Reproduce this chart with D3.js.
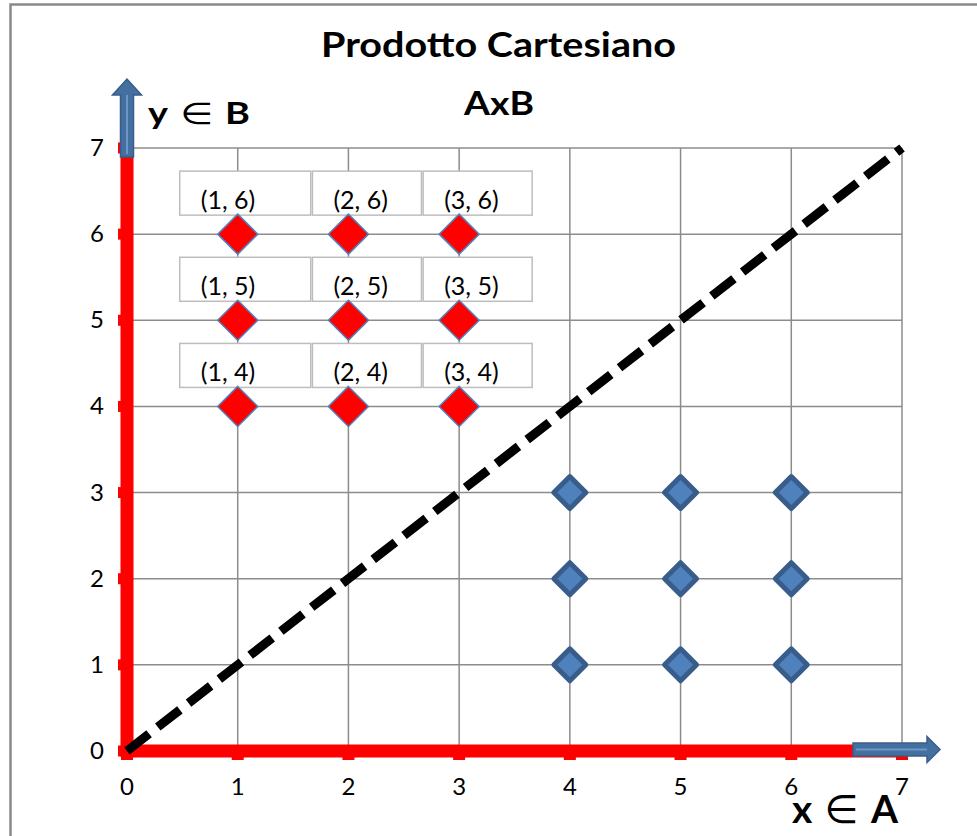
<!DOCTYPE html>
<html><head><meta charset="utf-8">
<script src="https://cdn.jsdelivr.net/npm/d3@7"></script>
<style>body{margin:0;background:#fff}svg{display:block}</style>
</head><body>
<svg id="c" width="977" height="836"></svg>
<script>
// ---- data ----
const title = "Prodotto Cartesiano";
const subtitle = "AxB";
const xAxisLabel = ["x", " \u2208 ", "A"];
const yAxisLabel = ["y", " \u2208 ", "B"];
const xTicks = [0, 1, 2, 3, 4, 5, 6, 7];
const yTicks = [0, 1, 2, 3, 4, 5, 6, 7];
const setA = [1, 2, 3];          // x values of red series
const setB = [4, 5, 6];          // y values of red series
const blueX = [4, 5, 6];
const blueY = [1, 2, 3];
const diagonal = [[0, 0], [7, 7]];

const redPts = [];
setB.forEach(y => setA.forEach(x => redPts.push({x, y})));
const bluePts = [];
blueY.forEach(y => blueX.forEach(x => bluePts.push({x, y})));

// ---- drawing ----
const svg = d3.select("#c");
const FONT = "Lato, 'Open Sans', sans-serif";
const xs = d3.scaleLinear().domain([0, 7]).range([127, 902]);
const ys = d3.scaleLinear().domain([0, 7]).range([751, 148]);

// outer border
svg.append("rect").attr("x", 10.5).attr("y", 4.5).attr("width", 1000).attr("height", 900)
  .attr("fill", "none").attr("stroke", "#8a8a8a").attr("stroke-width", 2.5);

// gridlines
const grid = svg.append("g").attr("stroke", "#8c8c8c").attr("stroke-width", 1.5);
xTicks.filter(t => t > 0).forEach(t => {
  grid.append("line").attr("x1", xs(t)).attr("x2", xs(t)).attr("y1", ys(0)).attr("y2", ys(7));
});
yTicks.filter(t => t > 0).forEach(t => {
  grid.append("line").attr("x1", xs(0)).attr("x2", xs(7)).attr("y1", ys(t)).attr("y2", ys(t));
});

// red axes with ticks
const ax = svg.append("g").attr("stroke", "#ff0000");
ax.append("line").attr("x1", xs(0)).attr("x2", xs(0)).attr("y1", ys(0) + 6).attr("y2", ys(7) - 6).attr("stroke-width", 13);
ax.append("line").attr("x1", xs(0) - 6).attr("x2", xs(7) + 6).attr("y1", ys(0)).attr("y2", ys(0)).attr("stroke-width", 13);
yTicks.forEach(t => ax.append("line").attr("x1", xs(0) - 9).attr("x2", xs(0)).attr("y1", ys(t)).attr("y2", ys(t)).attr("stroke-width", 11));
xTicks.forEach(t => ax.append("line").attr("x1", xs(t)).attr("x2", xs(t)).attr("y1", ys(0)).attr("y2", ys(0) + 9).attr("stroke-width", 12));

// tick labels
svg.append("g").selectAll("text").data(yTicks).join("text")
  .attr("x", xs(0) - 23).attr("y", d => ys(d) + 8).attr("text-anchor", "end")
  .attr("font-family", FONT).attr("font-size", 24).attr("fill", "#000").text(d => d);
svg.append("g").selectAll("text").data(xTicks).join("text")
  .attr("x", d => xs(d)).attr("y", ys(0) + 44).attr("text-anchor", "middle")
  .attr("font-family", FONT).attr("font-size", 24).attr("fill", "#000").text(d => d);

// dashed diagonal
svg.append("path").datum(diagonal)
  .attr("d", d3.line().x(d => xs(d[0])).y(d => ys(d[1])))
  .attr("fill", "none").attr("stroke", "#000").attr("stroke-width", 9)
  .attr("stroke-dasharray", "28,11");

// label boxes for red points
const lbl = svg.append("g");
redPts.forEach(p => {
  const left = xs(p.x) - (p.x === setA[0] ? 58 : 36);
  const right = xs(p.x) + 73;
  lbl.append("rect").attr("x", left).attr("y", ys(p.y) - 63)
    .attr("width", right - left).attr("height", 44)
    .attr("fill", "#fff").attr("stroke", "#bdbdbd").attr("stroke-width", 1.5);
});
redPts.forEach(p => {
  const left = xs(p.x) - (p.x === setA[0] ? 58 : 36);
  lbl.append("text").attr("x", left + 21).attr("y", ys(p.y) - 25)
    .attr("font-family", FONT).attr("font-size", 25).attr("fill", "#000")
    .text(`(${p.x}, ${p.y})`);
});

// diamonds
const diamond = r => `M0,${-r}L${r},0L0,${r}L${-r},0Z`;
svg.append("g").selectAll("path").data(bluePts).join("path")
  .attr("transform", d => `translate(${xs(d.x)},${ys(d.y)})`)
  .attr("d", diamond(16)).attr("fill", "#4f81bd").attr("stroke", "#385d8a").attr("stroke-width", 5)
  .attr("stroke-linejoin", "round");
svg.append("g").selectAll("path").data(redPts).join("path")
  .attr("transform", d => `translate(${xs(d.x)},${ys(d.y)})`)
  .attr("d", diamond(20)).attr("fill", "#ff0000").attr("stroke", "#4f81bd").attr("stroke-width", 1.5);

// arrows
const arrFill = "#44709f", arrStroke = "#385d8a";
const cx = xs(0);
const yArrow = [[cx - 6.5, ys(7) + 9], [cx - 6.5, ys(7) - 53], [cx - 14.5, ys(7) - 53], [cx, ys(7) - 69],
  [cx + 14.5, ys(7) - 53], [cx + 6.5, ys(7) - 53], [cx + 6.5, ys(7) + 9]];
svg.append("polygon").attr("points", yArrow.map(p => p.join(",")).join(" "))
  .attr("fill", arrFill).attr("stroke", arrStroke).attr("stroke-width", 1.5);
svg.append("line").attr("x1", cx).attr("x2", cx).attr("y1", ys(7) + 6).attr("y2", ys(7) - 53)
  .attr("stroke", "#6d95c8").attr("stroke-width", 2);
const cy = ys(0) - 1.5;
const xArrow = [[xs(7) - 49, cy - 6.5], [xs(7) + 25, cy - 6.5], [xs(7) + 25, cy - 13], [xs(7) + 38, cy],
  [xs(7) + 25, cy + 13], [xs(7) + 25, cy + 6.5], [xs(7) - 49, cy + 6.5]];
svg.append("polygon").attr("points", xArrow.map(p => p.join(",")).join(" "))
  .attr("fill", arrFill).attr("stroke", arrStroke).attr("stroke-width", 1.5);
svg.append("line").attr("x1", xs(7) - 46).attr("x2", xs(7) + 25).attr("y1", cy).attr("y2", cy)
  .attr("stroke", "#6d95c8").attr("stroke-width", 2);

// titles
svg.append("text").attr("x", 498.5).attr("y", 57).attr("text-anchor", "middle")
  .attr("font-family", FONT).attr("font-weight", "bold").attr("font-size", 35)
  .attr("textLength", 355).attr("lengthAdjust", "spacingAndGlyphs").text(title);
svg.append("text").attr("x", 499).attr("y", 115).attr("text-anchor", "middle")
  .attr("font-family", FONT).attr("font-weight", "bold").attr("font-size", 33)
  .attr("textLength", 70).attr("lengthAdjust", "spacingAndGlyphs").text(subtitle);

// axis labels (membership symbol in regular weight)
function axisLabel(parts, x, y, size, len) {
  const t = svg.append("text").attr("x", x).attr("y", y)
    .attr("font-family", FONT).attr("font-size", size).attr("fill", "#000")
    .attr("textLength", len).attr("lengthAdjust", "spacingAndGlyphs");
  parts.forEach((s, i) => t.append("tspan").attr("font-weight", i === 1 ? "normal" : "bold")
    .attr("font-family", i === 1 ? "'DejaVu Sans', sans-serif" : FONT).text(s));
}
axisLabel(yAxisLabel, 148, 124, 30, 102);
axisLabel(xAxisLabel, 792, 823, 39, 106);
</script>
</body></html>
